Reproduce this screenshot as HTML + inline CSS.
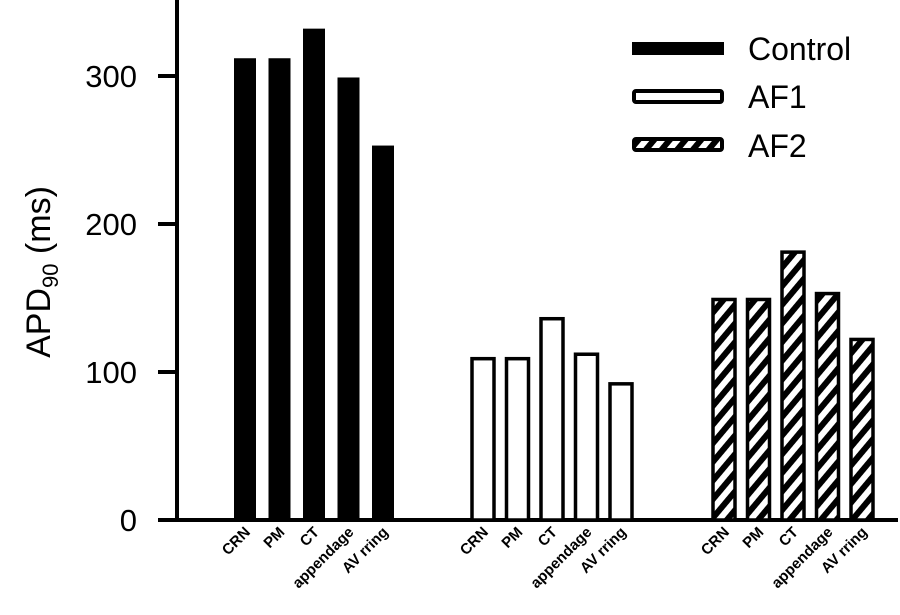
<!DOCTYPE html>
<html><head><meta charset="utf-8"><style>
body{margin:0;background:#fff}
svg{display:block;font-family:"Liberation Sans",Arial,sans-serif}
</style></head><body>
<svg id="chart" width="900" height="615" viewBox="0 0 900 615" xmlns="http://www.w3.org/2000/svg">
<defs>
<pattern id="hatch" patternUnits="userSpaceOnUse" width="12" height="12" patternTransform="rotate(40)">
<rect width="12" height="12" fill="#fff"/><rect width="6" height="12" fill="#000"/>
</pattern>
</defs>
<g id="axes"></g>
<g id="bars"></g>
<g id="legend">
<rect x="632" y="42" width="92" height="13" fill="#000"/>
<text x="748" y="60" font-size="32">Control</text>
<rect x="634" y="91" width="88" height="11" fill="#fff" stroke="#000" stroke-width="4" rx="2"/>
<text x="748" y="108" font-size="32">AF1</text>
<rect x="634" y="139" width="88" height="11" fill="url(#hatch)" stroke="#000" stroke-width="4" rx="2"/>
<text x="748" y="157" font-size="32">AF2</text>
</g>
<text transform="translate(50,272) rotate(-90)" text-anchor="middle" font-size="34">APD<tspan font-size="22" dy="8">90</tspan><tspan dy="-8"> (ms)</tspan></text>
</svg>
<script>
const categories = ["CRN","PM","CT","appendage","AV rring"];
const groups = ["Control","AF1","AF2"];
const controlValues = [312,312,332,299,253];
const af1Values = [109,109,136,112,92];
const af2Values = [149,149,181,153,122];
const yTicks = [0,100,200,300];

const NS = "http://www.w3.org/2000/svg";
const y0 = 520, pxPer = 1.48;
const yScale = v => y0 - v * pxPer;
const groupStart = [234, 472, 713];
const pitch = 34.5, barW = 22;
const xScale = (g, i) => groupStart[g] + i * pitch;

const axes = document.getElementById('axes');
function mk(tag, attrs, parent){const e=document.createElementNS(NS,tag);for(const k in attrs)e.setAttribute(k,attrs[k]);parent.appendChild(e);return e;}

const ya = mk('line',{x1:177,y1:0,x2:177,y2:522,stroke:'#000','stroke-width':4},axes);


const xa = mk('line',{x1:175,y1:520,x2:898,y2:520,stroke:'#000','stroke-width':4},axes);



yTicks.forEach(t=>{
  const y = yScale(t);
  const tk = mk('line',{x1:158,y1:y,x2:177,y2:y,stroke:'#000','stroke-width':4},axes);
  
  
  const lb = mk('text',{x:137,y:y+11,'text-anchor':'end','font-size':31},axes);
  
  
  lb.textContent = t;
});

const bars = document.getElementById('bars');
const series = [controlValues, af1Values, af2Values];
const fills = ['#000','#fff','url(#hatch)'];
series.forEach((vals,g)=>{
  vals.forEach((v,i)=>{
    const x = xScale(g,i), y = yScale(v);
    const r = mk('rect',{x:x, y:y, width:barW, height:y0-y, fill:fills[g], stroke:'#000','stroke-width':g===0?0:3.5},bars);
    
    
    const cx = x + barW/2 + 6, cy = 533;
    const lb = mk('text',{x:cx,y:cy,'text-anchor':'end','font-size':15,'font-weight':'bold',transform:`rotate(-45 ${cx} ${cy})`},axes);
    
    
    lb.textContent = categories[i];
  });
});
</script>
</body></html>
